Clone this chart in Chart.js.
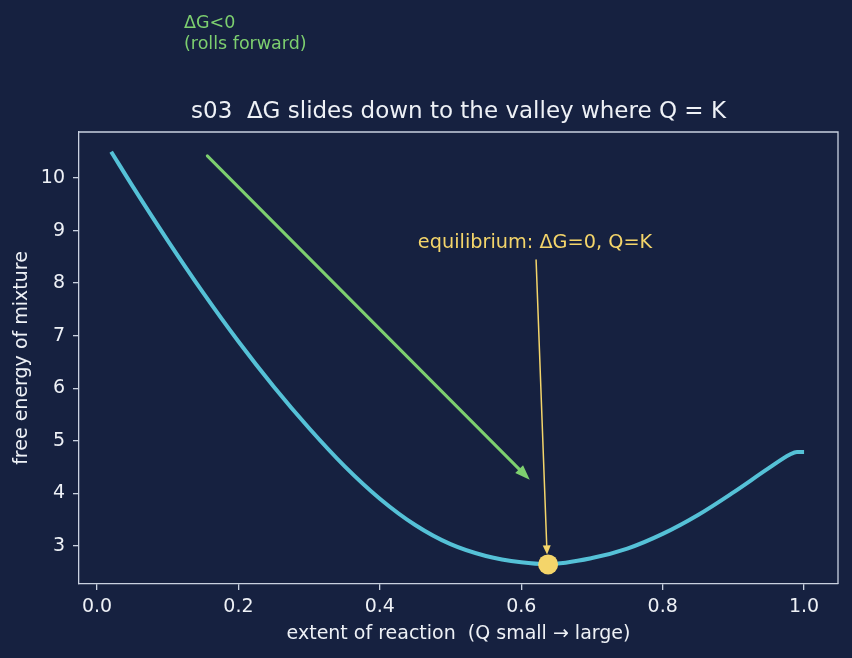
<!DOCTYPE html>
<html>
<head>
<meta charset="utf-8">
<script src="https://cdn.jsdelivr.net/npm/chart.js@4/dist/chart.umd.min.js"></script>
<style>
  html, body { margin: 0; padding: 0; background: #162140; }
  canvas { display: block; }
</style>
</head>
<body>
<canvas id="gibbsChart" width="852" height="658"></canvas>
<script>
// Free energy curve
const extentValues = [0.02, 0.05, 0.1, 0.15, 0.2, 0.25, 0.3, 0.35, 0.4, 0.45, 0.5, 0.55, 0.6, 0.637, 0.7, 0.75, 0.8, 0.85, 0.9, 0.95, 0.98, 0.99, 1.0];
const energyValues = [10.50, 9.85, 8.81, 7.82, 6.89, 6.03, 5.24, 4.52, 3.90, 3.40, 3.035, 2.81, 2.69, 2.655, 2.77, 2.95, 3.23, 3.59, 4.02, 4.48, 4.74, 4.79, 4.79];

// Equilibrium point (the valley)
const equilibriumPoint = [0.638, 2.65];

// Arrows: [x start, y start, x end, y end]
const forwardArrow = [0.156, 10.42, 0.612, 4.26];
const equilibriumArrow = [0.621, 8.44, 0.6365, 2.84];

// Texts
const chartTitle = "s03  ΔG slides down to the valley where Q = K";
const xAxisTitle = "extent of reaction  (Q small → large)";
const yAxisTitle = "free energy of mixture";
const equilibriumLabel = "equilibrium: ΔG=0, Q=K";
const forwardLabel = ["ΔG<0", "(rolls forward)"];

const bgColor = "#162140";
const axisColor = "#c9d1e0";
const textColor = "#eef1f6";
const curveColor = "#55c1d7";
const greenColor = "#7dcf6f";
const yellowColor = "#f4d56a";
const fontFamily = "'DejaVu Sans', sans-serif";

let curvePoints = [];
for (let i = 0; i < extentValues.length; i++) {
  curvePoints.push({ x: extentValues[i], y: energyValues[i] });
}

// Draws a line with a filled triangular head at the end
function drawArrow(ctx, x1, y1, x2, y2, color, width, headLen, headWidth) {
  let ang = Math.atan2(y2 - y1, x2 - x1);
  let bx = x2 - headLen * Math.cos(ang);
  let by = y2 - headLen * Math.sin(ang);
  ctx.save();
  ctx.strokeStyle = color;
  ctx.fillStyle = color;
  ctx.lineWidth = width;
  ctx.lineCap = "round";
  ctx.beginPath();
  ctx.moveTo(x1, y1);
  ctx.lineTo(bx, by);
  ctx.stroke();
  ctx.beginPath();
  ctx.moveTo(x2, y2);
  ctx.lineTo(bx + headWidth / 2 * Math.sin(ang), by - headWidth / 2 * Math.cos(ang));
  ctx.lineTo(bx - headWidth / 2 * Math.sin(ang), by + headWidth / 2 * Math.cos(ang));
  ctx.closePath();
  ctx.fill();
  ctx.restore();
}

const extras = {
  id: "extras",
  beforeDraw(chart) {
    let ctx = chart.ctx;
    ctx.save();
    ctx.fillStyle = bgColor;
    ctx.fillRect(0, 0, chart.width, chart.height);
    ctx.restore();
  },
  afterDraw(chart) {
    let ctx = chart.ctx;
    let xs = chart.scales.x;
    let ys = chart.scales.y;
    let area = chart.chartArea;

    // top and right spines
    ctx.save();
    ctx.strokeStyle = axisColor;
    ctx.lineWidth = 1.3;
    ctx.beginPath();
    ctx.moveTo(area.left, area.top);
    ctx.lineTo(area.right, area.top);
    ctx.lineTo(area.right, area.bottom);
    ctx.stroke();
    ctx.restore();

    // arrows
    drawArrow(ctx, xs.getPixelForValue(forwardArrow[0]), ys.getPixelForValue(forwardArrow[1]),
      xs.getPixelForValue(forwardArrow[2]), ys.getPixelForValue(forwardArrow[3]), greenColor, 3, 15, 11);
    drawArrow(ctx, xs.getPixelForValue(equilibriumArrow[0]), ys.getPixelForValue(equilibriumArrow[1]),
      xs.getPixelForValue(equilibriumArrow[2]), ys.getPixelForValue(equilibriumArrow[3]), yellowColor, 1.5, 9, 8);

    ctx.save();
    // equilibrium label
    ctx.font = "19.3px " + fontFamily;
    ctx.fillStyle = yellowColor;
    ctx.textAlign = "center";
    ctx.textBaseline = "middle";
    ctx.fillText(equilibriumLabel, xs.getPixelForValue(0.6195), ys.getPixelForValue(8.76));

    // forward label, sits above the axes
    ctx.font = "17.5px " + fontFamily;
    ctx.fillStyle = greenColor;
    ctx.textAlign = "left";
    ctx.textBaseline = "alphabetic";
    let fx = xs.getPixelForValue(0.123);
    ctx.fillText(forwardLabel[0], fx, ys.getPixelForValue(12.85));
    ctx.fillText(forwardLabel[1], fx, ys.getPixelForValue(12.85) + 21);

    // title
    ctx.font = "23px " + fontFamily;
    ctx.fillStyle = textColor;
    ctx.textAlign = "center";
    ctx.textBaseline = "middle";
    ctx.fillText(chartTitle, (area.left + area.right) / 2, 112);

    // axis titles
    ctx.font = "19px " + fontFamily;
    ctx.fillText(xAxisTitle, (area.left + area.right) / 2, 634);
    ctx.translate(22, (area.top + area.bottom) / 2);
    ctx.rotate(-Math.PI / 2);
    ctx.fillText(yAxisTitle, 0, 0);
    ctx.restore();
  }
};

new Chart(document.getElementById("gibbsChart"), {
  type: "line",
  data: {
    datasets: [
      {
        data: curvePoints,
        borderColor: curveColor,
        borderWidth: 4,
        pointRadius: 0,
        cubicInterpolationMode: "monotone",
        fill: false,
        order: 2
      },
      {
        data: [{ x: equilibriumPoint[0], y: equilibriumPoint[1] }],
        showLine: false,
        pointRadius: 10,
        pointBackgroundColor: yellowColor,
        pointBorderColor: yellowColor,
        pointBorderWidth: 0,
        order: 1
      }
    ]
  },
  options: {
    responsive: false,
    devicePixelRatio: 1,
    animation: false,
    layout: { padding: { top: 132, right: 14, left: 0, bottom: 0 } },
    plugins: { legend: { display: false }, tooltip: { enabled: false } },
    scales: {
      x: {
        type: "linear",
        min: -0.0255,
        max: 1.048,
        afterFit: function(scale) { scale.height = 74; },
        ticks: {
          stepSize: 0.2,
          includeBounds: false,
          padding: 6,
          color: textColor,
          font: { family: fontFamily, size: 19 },
          callback: function(v) { return v.toFixed(1); }
        },
        grid: { drawOnChartArea: false, drawTicks: true, tickLength: 6, color: axisColor, lineWidth: 1.3 },
        border: { display: true, color: axisColor, width: 1.3 }
      },
      y: {
        type: "linear",
        min: 2.277,
        max: 10.875,
        afterFit: function(scale) { scale.width = 79; },
        ticks: {
          stepSize: 1,
          includeBounds: false,
          padding: 8,
          color: textColor,
          font: { family: fontFamily, size: 19 }
        },
        grid: { drawOnChartArea: false, drawTicks: true, tickLength: 6, color: axisColor, lineWidth: 1.3 },
        border: { display: true, color: axisColor, width: 1.3 }
      }
    }
  },
  plugins: [extras]
});
</script>
</body>
</html>
